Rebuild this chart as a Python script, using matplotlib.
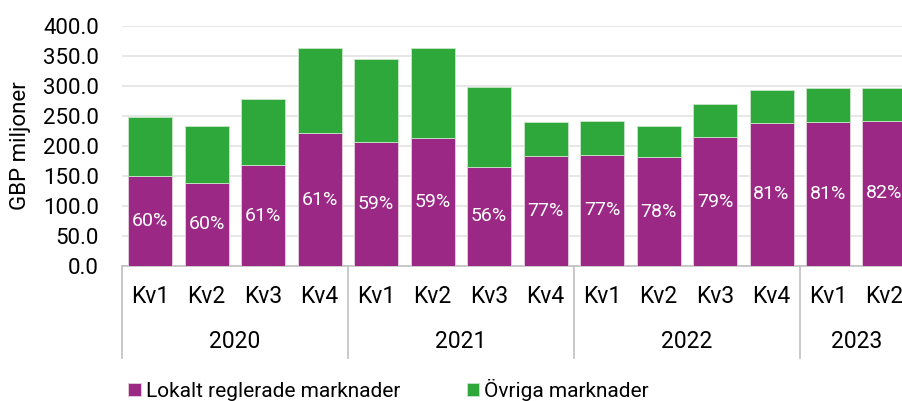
import matplotlib
matplotlib.use("Agg")
import matplotlib.pyplot as plt
import matplotlib.transforms as mtransforms

plt.rcParams['font.family'] = ['Roboto', 'DejaVu Sans']

quarters = ["Kv1", "Kv2", "Kv3", "Kv4"] * 3 + ["Kv1", "Kv2"]
years = ["2020", "2021", "2022", "2023"]
year_sizes = [4, 4, 4, 2]
lokalt = [149.5, 139.0, 168.0, 221.0, 206.0, 214.0, 165.5, 184.0, 185.5, 181.0, 214.5, 239.0, 239.5, 242.5]
ovriga = [99.0, 95.0, 110.0, 142.5, 139.0, 149.5, 132.0, 55.5, 55.5, 52.0, 56.0, 55.0, 56.5, 55.0]
pct_labels = ["60%", "60%", "61%", "61%", "59%", "59%", "56%", "77%", "77%", "78%", "79%", "81%", "81%", "82%"]
yticks = [0, 50, 100, 150, 200, 250, 300, 350, 400]

purple = "#9A2884"
green = "#2EA83A"

W, H = 902, 401
fig = plt.figure(figsize=(W / 100, H / 100), dpi=100)
ax_w = 912.75 - 122
ax = fig.add_axes([122 / W, (H - 266) / H, ax_w / W, 240 / H])

x = list(range(len(lokalt)))
ax.bar(x, lokalt, width=0.78, color=purple, edgecolor="#e6d0e0", linewidth=0.6, zorder=3,
       label="Lokalt reglerade marknader")
ax.bar(x, ovriga, width=0.78, bottom=lokalt, color=green, edgecolor="#c8e6c8", linewidth=0.6, zorder=3,
       label="Övriga marknader")

for xi, v, lab in zip(x, lokalt, pct_labels):
    ax.text(xi, v / 2, lab, ha="center", va="center", color="white", fontsize=14, zorder=4)

ax.set_xlim(-0.5, len(lokalt) - 0.5)
ax.set_ylim(0, 400)
ax.set_yticks(yticks)
ax.set_yticklabels([f"{v:.1f}" for v in yticks], fontsize=16)
ax.grid(axis="y", color="#e3e3e3", linewidth=1.2, zorder=0)
ax.set_axisbelow(True)
for s in ["top", "right", "left"]:
    ax.spines[s].set_visible(False)
ax.spines["bottom"].set_color("#c0c0c0")
ax.spines["bottom"].set_linewidth(1.2)
ax.tick_params(axis="y", length=0, pad=16.5)
ax.set_xticks(x)
ax.set_xticklabels(quarters, fontsize=16.5, va="center")
ax.tick_params(axis="x", length=0, pad=22.3)
ax.set_ylabel("GBP miljoner", fontsize=16)
ax.yaxis.set_label_coords((31 - 122) / ax_w, 0.5)

trans = mtransforms.blended_transform_factory(ax.transData, ax.transAxes)
sep_bottom = -(358 - 266) / 240
start = 0
bounds = [-0.5]
for yr, n in zip(years, year_sizes):
    center = start + (n - 1) / 2
    ax.text(center, -(342 - 266) / 240, yr, transform=trans, ha="center", va="center", fontsize=16.5)
    start += n
    bounds.append(start - 0.5)
for b in bounds[:-1]:
    ax.plot([b, b], [0, sep_bottom], transform=trans, color="#c0c0c0", linewidth=1.2, clip_on=False)

fig.legend(loc="center left", bbox_to_anchor=(128 / W, (H - 390) / H), ncol=2, frameon=False, fontsize=15,
           handlelength=0.6, handleheight=0.6, handletextpad=0.25, columnspacing=3.2,
           borderaxespad=0.0, borderpad=0.0)

fig.savefig("out.png", dpi=100)
